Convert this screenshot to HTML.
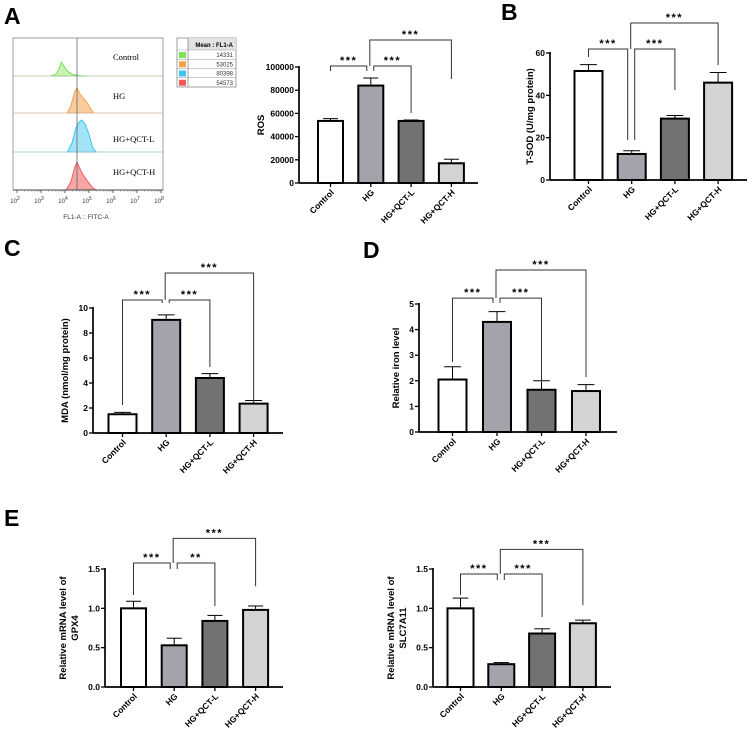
<!DOCTYPE html>
<html><head><meta charset="utf-8"><style>
html,body{margin:0;padding:0;background:#fff;}
svg{display:block;font-family:"Liberation Sans",Arial,sans-serif;}
</style></head><body>
<svg id="fig" width="753" height="735" viewBox="0 0 753 735" xmlns="http://www.w3.org/2000/svg">
<text x="4" y="24" font-size="23" font-weight="bold">A</text>
<text x="501" y="20" font-size="23" font-weight="bold">B</text>
<text x="4" y="256" font-size="23" font-weight="bold">C</text>
<text x="363" y="258" font-size="23" font-weight="bold">D</text>
<text x="4" y="526" font-size="23" font-weight="bold">E</text>
<g id="flow"></g>
<g id="legend"></g>
</svg>
<script>
const NS="http://www.w3.org/2000/svg";
const svg=document.getElementById('fig');
function mk(tag,attrs,parent,txt){const e=document.createElementNS(NS,tag);for(const k in attrs)e.setAttribute(k,attrs[k]);if(txt!==undefined)e.textContent=txt;(parent||svg).appendChild(e);return e;}

const categories=["Control","HG","HG+QCT-L","HG+QCT-H"];
const fills=["#ffffff","#a3a3ab","#727272","#d3d3d3"];

// Panel A ROS
const rosValues=[53500,84000,53500,17000];
const rosErrors=[2000,6500,800,3500];
const rosTicks=[0,20000,40000,60000,80000,100000];
const rosBrackets=[[0,1,100900,96500,96500,"***"],[1,2,100900,96500,60300,"***"],[1,3,123300,100900,89700,"***"]];
// Panel B T-SOD
const sodValues=[51.5,12.3,29,46];
const sodErrors=[3,1.5,1.5,4.8];
const sodTicks=[0,20,40,60];
const sodBrackets=[[0,1,61.9,58.1,18.9,"***"],[1,2,61.9,18.9,42.5,"***"],[1,3,74.2,61.9,54.3,"***"]];
// Panel C MDA
const mdaValues=[1.5,9.05,4.4,2.35];
const mdaErrors=[0.15,0.4,0.35,0.25];
const mdaTicks=[0,2,4,6,8,10];
const mdaBrackets=[[0,1,10.64,2.24,10.4,"***"],[1,2,10.64,10.4,5.28,"***"],[1,3,12.8,10.64,2.4,"***"]];
// Panel D iron
const ironValues=[2.05,4.3,1.65,1.6];
const ironErrors=[0.5,0.4,0.35,0.25];
const ironTicks=[0,1,2,3,4,5];
const ironBrackets=[[0,1,5.23,2.73,5.04,"***"],[1,2,5.23,5.04,1.95,"***"],[1,3,6.33,5.23,2.15,"***"]];
// Panel E GPX4
const gpxValues=[1.0,0.53,0.84,0.98];
const gpxErrors=[0.09,0.09,0.07,0.05];
const gpxTicks=[0,0.5,1.0,1.5];
const gpxBrackets=[[0,1,1.576,1.17,1.5,"***"],[1,2,1.576,1.5,1.03,"**"],[1,3,1.89,1.576,1.28,"***"]];
// Panel E SLC7A11
const slcValues=[1.0,0.29,0.68,0.81];
const slcErrors=[0.13,0.02,0.06,0.04];
const slcTicks=[0,0.5,1.0,1.5];
const slcBrackets=[[0,1,1.436,1.17,1.36,"***"],[1,2,1.436,1.36,0.89,"***"],[1,3,1.75,1.436,1.04,"***"]];

function panel(o){
  const g=mk('g',{});
  
  
  const ymax=o.ticks[o.ticks.length-1];
  const Y=v=>o.y0-(v/ymax)*(o.y0-o.yTop);
  const X=i=>o.c0+i*o.step;
  o.values.forEach((v,i)=>{
    const cx=X(i),w=o.bw;
    const eb=mk('g',{},g);
    
    
    mk('line',{x1:cx,x2:cx,y1:Y(v),y2:Y(v+o.errors[i]),stroke:'#000','stroke-width':1},eb);
    mk('line',{x1:cx-w*0.3,x2:cx+w*0.3,y1:Y(v+o.errors[i]),y2:Y(v+o.errors[i]),stroke:'#000','stroke-width':1},eb);
    const r=mk('rect',{x:cx-w/2,y:Y(v),width:w,height:o.y0-Y(v),fill:fills[i],stroke:'#000','stroke-width':2},g);
    
    
  });
  const ya=mk('line',{x1:o.ax,x2:o.ax,y1:o.yTop-1,y2:o.y0,stroke:'#000','stroke-width':1.7},g);
  
  
  const xa=mk('line',{x1:o.ax,x2:o.xEnd,y1:o.y0,y2:o.y0,stroke:'#000','stroke-width':1.7},g);
  
  
  o.ticks.forEach(t=>{
    mk('line',{x1:o.ax-4,x2:o.ax,y1:Y(t),y2:Y(t),stroke:'#000','stroke-width':1.3},g);
    const tl=mk('text',{x:o.ax-5,y:Y(t)+3,'font-size':8.5,'font-weight':'bold','text-anchor':'end'},g,o.fmt?o.fmt(t):String(t));
    
    
  });
  categories.forEach((c,i)=>{
    mk('line',{x1:X(i),x2:X(i),y1:o.y0,y2:o.y0+4,stroke:'#000','stroke-width':1.3},g);
    const cl=mk('text',{x:X(i)+4,y:o.y0+10,'font-size':8.5,'font-weight':'bold','text-anchor':'end',transform:`rotate(-45 ${X(i)+4} ${o.y0+10})`},g,c);
    
    
  });
  const ty=(o.y0+o.yTop)/2;
  o.title.forEach((t,k)=>{
    const tx=o.titleX+k*12;
    const tt=mk('text',{x:tx,y:ty,'font-size':9.5,'font-weight':'bold','text-anchor':'middle',transform:`rotate(-90 ${tx} ${ty})`},g,t);
    
    
  });
  o.brackets.forEach(b=>{
    const [i,j,top,ld,rd,lab]=b;
    const long=(j-i)>1;
    let x1=X(i)+(i===1?(long?-1:3):0), x2=X(j)+(j===1?-4:0);
    const bg=mk('g',{},g);
    
    
    mk('polyline',{points:`${x1},${Y(ld)} ${x1},${Y(top)} ${x2},${Y(top)} ${x2},${Y(rd)}`,fill:'none',stroke:'#333','stroke-width':1},bg);
    mk('text',{x:(x1+x2)/2,y:Y(top)-2,'font-size':11,'font-weight':'bold','text-anchor':'middle','letter-spacing':'1.5'},bg,lab);
  });
}

panel({name:'ros-bar-chart',values:rosValues,errors:rosErrors,ticks:rosTicks,brackets:rosBrackets,ax:299,xEnd:478,y0:183,yTop:67,c0:330.5,step:40.3,bw:25,title:['ROS'],titleX:264});
panel({name:'tsod-bar-chart',values:sodValues,errors:sodErrors,ticks:sodTicks,brackets:sodBrackets,ax:550,xEnd:747,y0:180,yTop:53,c0:588.5,step:43.2,bw:28,title:['T-SOD (U/mg protein)'],titleX:533});
panel({name:'mda-bar-chart',values:mdaValues,errors:mdaErrors,ticks:mdaTicks,brackets:mdaBrackets,ax:93,xEnd:283,y0:433,yTop:308,c0:122.5,step:43.7,bw:28,title:['MDA (nmol/mg protein)'],titleX:68});
panel({name:'iron-bar-chart',values:ironValues,errors:ironErrors,ticks:ironTicks,brackets:ironBrackets,ax:419,xEnd:617,y0:432,yTop:304,c0:452.5,step:44.5,bw:28,title:['Relative iron level'],titleX:399});
panel({name:'gpx4-bar-chart',values:gpxValues,errors:gpxErrors,ticks:gpxTicks,brackets:gpxBrackets,ax:105,xEnd:283,y0:687,yTop:569,c0:133.5,step:40.7,bw:25,title:['Relative mRNA level of','GPX4'],titleX:66,fmt:t=>t.toFixed(1)});
panel({name:'slc7a11-bar-chart',values:slcValues,errors:slcErrors,ticks:slcTicks,brackets:slcBrackets,ax:433,xEnd:611,y0:687,yTop:569,c0:460.5,step:40.8,bw:26,title:['Relative mRNA level of','SLC7A11'],titleX:394,fmt:t=>t.toFixed(1)});

const flowGroups=["Control","HG","HG+QCT-L","HG+QCT-H"];
const flowColors=["#7fe05a","#f5a04f","#3fc4f0","#f05a5a"];
const flowFills=["#c8f3b5","#f9cc9e","#a3e3f8","#f6a6a6"];
const flowMeans=["14331","53025","80398","54573"];
const ctrlHist=[[3.4,0],[3.6,0.1],[3.75,0.5],[3.85,1],[3.95,0.7],[4.1,0.35],[4.3,0.12],[4.6,0.03],[4.9,0]];
const hgHist=[[4.1,0],[4.25,0.3],[4.4,0.85],[4.5,1],[4.6,0.8],[4.75,0.6],[4.9,0.45],[5.05,0.2],[5.2,0]];
const lHist=[[4.1,0],[4.3,0.3],[4.45,0.75],[4.6,0.95],[4.7,1],[4.85,0.85],[5.0,0.55],[5.15,0.15],[5.3,0]];
const hHist=[[4.05,0],[4.25,0.3],[4.4,0.8],[4.5,1],[4.6,0.8],[4.75,0.55],[4.95,0.3],[5.15,0.08],[5.3,0]];
const histPeaks=[14,25,32,28];
const decades=[2,3,4,5,6,7,8];
(function(){
  const g=document.getElementById('flow');
  const L=13,R=163,T=38,B=190;
  const lx=v=>17+(v-2)*24;
  const rowB=[76,113,152,190];
  [ctrlHist,hgHist,lHist,hHist].forEach((h,k)=>{
    const base=rowB[k];
    mk('line',{x1:L,x2:R,y1:base,y2:base,stroke:flowColors[k],'stroke-width':0.8,opacity:0.7},g);
    let d='M'+lx(h[0][0])+','+base;
    h.forEach(p=>{d+=' L'+lx(p[0]).toFixed(1)+','+(base-p[1]*histPeaks[k]).toFixed(1);});
    d+=' Z';
    const p=mk('path',{d:d,fill:flowFills[k],stroke:flowColors[k],'stroke-width':1},g);
    
    
    if(k<3){mk('line',{x1:L,x2:R,y1:base,y2:base,stroke:'#bbb','stroke-width':0.6},g);}
    const lab=mk('text',{x:113,y:[60,99,142,175][k],'font-size':8.5,'font-family':'"Liberation Serif",serif'},g,flowGroups[k]);
    
    
  });
  mk('rect',{x:L,y:T,width:R-L,height:B-T,fill:'none',stroke:'#888','stroke-width':0.8},g);
  mk('line',{x1:lx(4.5),x2:lx(4.5),y1:T,y2:B,stroke:'#666','stroke-width':0.8},g);
  mk('line',{x1:L,x2:R,y1:B,y2:B,stroke:'#444','stroke-width':1},g);
  decades.forEach(d=>{
    mk('line',{x1:lx(d),x2:lx(d),y1:B,y2:B+3,stroke:'#444','stroke-width':0.8},g);
    if(d<8)for(let m=2;m<10;m++){const xx=lx(d+Math.log10(m));mk('line',{x1:xx,x2:xx,y1:B,y2:B+1.5,stroke:'#666','stroke-width':0.5},g);}
    const t=mk('text',{x:lx(d)-2,y:203,'font-size':6,'text-anchor':'middle',fill:'#333'},g,'10');
    mk('tspan',{dy:-3,'font-size':5},t,String(d));
    
    
  });
  const xl=mk('text',{x:86,y:219,'font-size':6.5,'text-anchor':'middle',fill:'#333'},g,'FL1-A :: FITC-A');
  
  

  const lg=document.getElementById('legend');
  mk('rect',{x:177,y:38,width:59,height:49,fill:'#fff',stroke:'#888','stroke-width':0.8},lg);
  mk('rect',{x:188,y:38,width:48,height:12,fill:'#e2e2e2'},lg);
  mk('line',{x1:188,x2:188,y1:38,y2:87,stroke:'#888','stroke-width':0.8},lg);
  mk('text',{x:233,y:47,'font-size':6,'font-weight':'bold','text-anchor':'end'},lg,'Mean : FL1-A');
  flowMeans.forEach((m,k)=>{
    const y=50+k*9.25;
    mk('line',{x1:177,x2:236,y1:y,y2:y,stroke:'#999','stroke-width':0.6},lg);
    const sw=mk('rect',{x:179,y:y+2,width:7,height:6,fill:flowColors[k]},lg);
    
    
    mk('text',{x:233,y:y+7,'font-size':6,'text-anchor':'end',fill:'#333'},lg,m);
  });
})();
</script>
</body></html>
